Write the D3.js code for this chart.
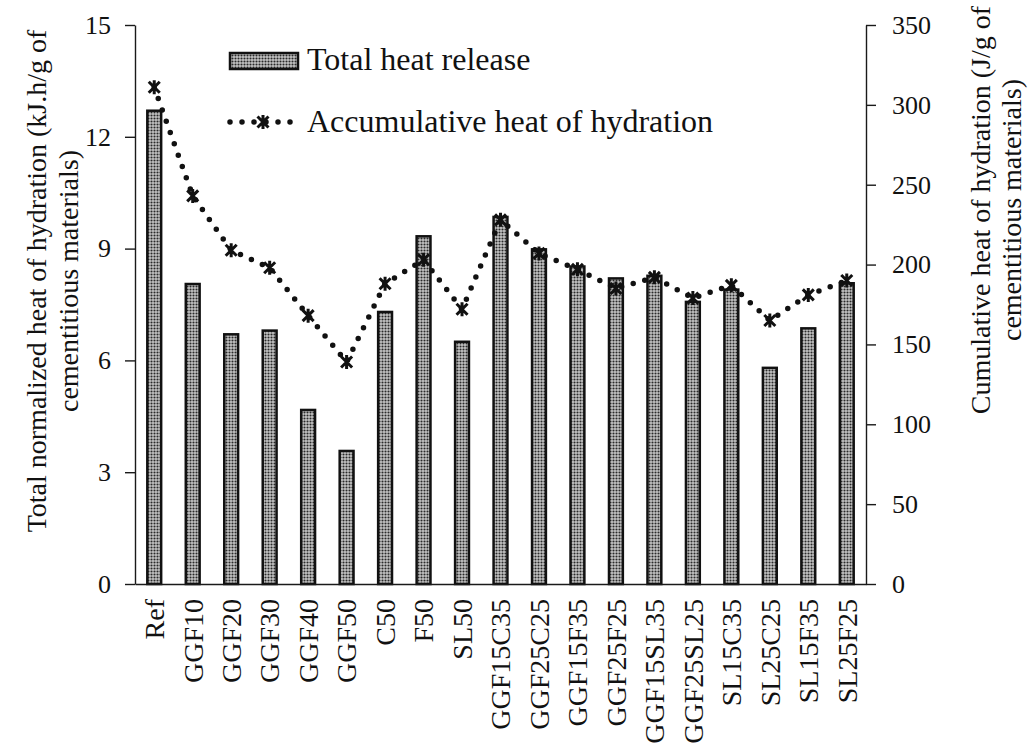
<!DOCTYPE html>
<meta charset="utf-8">
<title>Heat of hydration</title>
<style>
  body { margin: 0; background: #fff; }
  text { font-family: "Liberation Serif", "Times New Roman", serif; fill: #111; }
  .axis path, .axis line { stroke: #1a1a1a; stroke-width: 1.4px; }
</style>
<body>
<svg width="1029" height="748"></svg>
<script src="https://d3js.org/d3.v7.min.js"></script>
<script>
  // mixes on the x axis
  var mixes = ["Ref", "GGF10", "GGF20", "GGF30", "GGF40", "GGF50", "C50", "F50", "SL50",
    "GGF15C35", "GGF25C25", "GGF15F35", "GGF25F25", "GGF15SL35", "GGF25SL25",
    "SL15C35", "SL25C25", "SL15F35", "SL25F25"];
  // bars: total normalized heat (kJ.h/g)
  var totalHeat = [12.7, 8.05, 6.7, 6.8, 4.67, 3.57, 7.3, 9.33, 6.5,
    9.85, 8.98, 8.52, 8.2, 8.27, 7.57, 7.9, 5.8, 6.86, 8.07];
  // line: cumulative heat (J/g)
  var cumulativeHeat = [311, 243, 209, 198, 168, 139, 188, 203, 172,
    228, 207, 197, 185, 192, 179, 187, 165, 181, 190];
  var leftTicks = [0, 3, 6, 9, 12, 15];
  var rightTicks = [0, 50, 100, 150, 200, 250, 300, 350];

  var svg = d3.select("svg");
  var plotLeft = 135, plotRight = 866, plotTop = 25, plotBottom = 584;

  var x = d3.scaleBand()
    .domain(mixes)
    .range([plotLeft, plotRight])
    .paddingInner(0.64)
    .paddingOuter(0.32);
  var y = d3.scaleLinear().domain([0, 15]).range([plotBottom, plotTop]);
  var y2 = d3.scaleLinear().domain([0, 350]).range([plotBottom, plotTop]);

  // dotted fill like the excel pattern
  var defs = svg.append("defs");
  var pat = defs.append("pattern")
    .attr("id", "dots")
    .attr("patternUnits", "userSpaceOnUse")
    .attr("width", 3).attr("height", 3);
  pat.append("rect").attr("width", 3).attr("height", 3).attr("fill", "#c4c4c4");
  pat.append("circle").attr("cx", 1.5).attr("cy", 1.5).attr("r", 1.05).attr("fill", "#2a2a2a");

  // bars
  svg.selectAll(".bar")
    .data(mixes)
    .enter().append("rect")
    .attr("class", "bar")
    .attr("x", d => x(d))
    .attr("width", x.bandwidth())
    .attr("y", (d, i) => y(totalHeat[i]))
    .attr("height", (d, i) => plotBottom - y(totalHeat[i]))
    .attr("fill", "url(#dots)")
    .attr("stroke", "#111")
    .attr("stroke-width", 2.5);

  // axes
  svg.append("g")
    .attr("class", "axis")
    .attr("transform", "translate(" + plotLeft + ",0)")
    .call(d3.axisLeft(y).tickValues(leftTicks).tickSize(10).tickSizeOuter(0).tickPadding(14))
    .selectAll("text").style("font-size", "26px");

  svg.append("g")
    .attr("class", "axis")
    .attr("transform", "translate(" + plotRight + ",0)")
    .call(d3.axisRight(y2).tickValues(rightTicks).tickSize(10).tickSizeOuter(0).tickPadding(16))
    .selectAll("text").style("font-size", "26px");

  var xAxis = svg.append("g")
    .attr("class", "axis")
    .attr("transform", "translate(0," + plotBottom + ")")
    .call(d3.axisBottom(x).tickSize(0).tickSizeOuter(0));
  xAxis.selectAll("text")
    .style("font-size", "28px")
    .attr("transform", "rotate(-90)")
    .attr("text-anchor", "end")
    .attr("x", -15)
    .attr("y", 0)
    .attr("dy", "0.35em");

  // cumulative heat line
  var cx = d => x(d) + x.bandwidth() / 2;
  var line = d3.line()
    .x(d => cx(d))
    .y((d, i) => y2(cumulativeHeat[i]));

  svg.append("path")
    .datum(mixes)
    .attr("d", line)
    .attr("fill", "none")
    .attr("stroke", "#111")
    .attr("stroke-width", 5.5)
    .attr("stroke-linecap", "round")
    .attr("stroke-dasharray", "0 12");

  function star(g) {
    g.append("path")
      .attr("d", "M-5.5,-5.5L5.5,5.5M-5.5,5.5L5.5,-5.5M0,-7L0,7")
      .attr("stroke", "#111")
      .attr("stroke-width", 3)
      .attr("fill", "none");
  }

  svg.selectAll(".marker")
    .data(mixes)
    .enter().append("g")
    .attr("class", "marker")
    .attr("transform", (d, i) => "translate(" + cx(d) + "," + y2(cumulativeHeat[i]) + ")")
    .each(function () { star(d3.select(this)); });

  // legend
  var legend = svg.append("g");
  legend.append("rect")
    .attr("x", 230).attr("y", 53)
    .attr("width", 68).attr("height", 16)
    .attr("fill", "url(#dots)")
    .attr("stroke", "#111")
    .attr("stroke-width", 2.5);
  legend.append("text")
    .attr("x", 307).attr("y", 70)
    .style("font-size", "32px")
    .text("Total heat release");

  legend.append("path")
    .attr("d", "M230,122L294,122")
    .attr("stroke", "#111")
    .attr("stroke-width", 5.5)
    .attr("stroke-linecap", "round")
    .attr("stroke-dasharray", "0 12");
  star(legend.append("g").attr("transform", "translate(263,122)"));
  legend.append("text")
    .attr("x", 307).attr("y", 132)
    .style("font-size", "32px")
    .text("Accumulative heat of hydration");

  // axis titles
  var leftTitle = svg.append("text")
    .attr("transform", "translate(36,281) rotate(-90)")
    .attr("text-anchor", "middle")
    .style("font-size", "28px");
  leftTitle.append("tspan").attr("x", 0).attr("dy", "0.35em").text("Total normalized heat of hydration (kJ.h/g of");
  leftTitle.append("tspan").attr("x", 0).attr("dy", "1.15em").text("cementitious materials)");

  var rightTitle = svg.append("text")
    .attr("transform", "translate(980,210) rotate(-90)")
    .attr("text-anchor", "middle")
    .style("font-size", "28px");
  rightTitle.append("tspan").attr("x", 0).attr("dy", "0.35em").text("Cumulative heat of hydration (J/g of");
  rightTitle.append("tspan").attr("x", 0).attr("dy", "1.12em").text("cementitious materials)");
</script>
</body>
